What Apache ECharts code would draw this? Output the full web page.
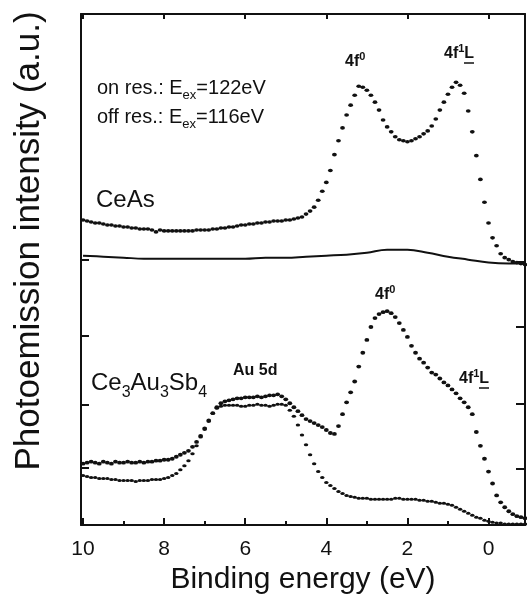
<!DOCTYPE html>
<html><head><meta charset="utf-8">
<script src="https://cdn.jsdelivr.net/npm/echarts@6/dist/echarts.min.js"></script>
<style>html,body{margin:0;padding:0;background:#fff}#c{width:527px;height:600px}</style>
</head><body><div id="c"></div>
<script>
// Binding energy sampling (eV)
const energyFine = [
 10.0,9.9,9.8,9.7,9.6,9.5,9.4,9.3,9.2,9.1,
 9.0,8.9,8.8,8.7,8.6,8.5,8.4,8.3,8.2,8.1,
 8.0,7.9,7.8,7.7,7.6,7.5,7.4,7.3,7.2,7.1,
 7.0,6.9,6.8,6.7,6.6,6.5,6.4,6.3,6.2,6.1,
 6.0,5.9,5.8,5.7,5.6,5.5,5.4,5.3,5.2,5.1,
 5.0,4.9,4.8,4.7,4.6,4.5,4.4,4.3,4.2,4.1,
 4.0,3.9,3.8,3.7,3.6,3.5,3.4,3.3,3.2,3.1,
 3.0,2.9,2.8,2.7,2.6,2.5,2.4,2.3,2.2,2.1,
 2.0,1.9,1.8,1.7,1.6,1.5,1.4,1.3,1.2,1.1,
 1.0,0.9,0.8,0.7,0.6,0.5,0.4,0.3,0.2,0.1,
 0.0,-0.1,-0.2,-0.3,-0.4,-0.5,-0.6,-0.7,-0.8,-0.9
];
// CeAs, on resonance (122 eV)
const ceAsOn = [
 308,307,306,305,305,304,303,303,302,302,
 301,301,300,300,299,299,299,298,296,298,
 297,297,297,297,297,297,297,297,298,298,
 298,298,299,299,300,300,301,301,302,303,
 303,304,304,305,305,306,306,307,307,307,
 308,308,309,310,311,314,317,321,328,337,
 346,358,374,388,401,414,424,434,443,442,
 439,434,427,419,409,402,397,392,389,388,
 387,388,390,392,395,398,403,410,419,427,
 435,442,447,444,436,418,397,373,349,326,
 305,290,282,274,270,268,266,265,264,263
];
// CeAs, off resonance (116 eV)
const energyCoarse = [10,9.5,9,8.5,8,7.5,7,6.5,6,5.5,5,4.5,4,3.5,3,2.5,2,1.5,1,0.5,0,-0.5,-0.9];
const ceAsOff = [272,271,270,269,269,269,269,269,269,270,270,271,272,273,275,278,278,275,271,268,265,264,264];
// Ce3Au3Sb4, on resonance
const ce3Au3Sb4On = [
 62,63,64,63,62,64,63,62,64,63,
 63,64,63,63,64,63,64,64,65,65,
 66,66,67,69,71,73,75,79,84,90,
 97,105,113,119,123,125,126,127,128,128,
 129,129,129,130,129,130,131,131,132,130,
 127,123,119,115,111,107,105,103,101,99,
 96,93,92,100,112,124,134,145,160,174,
 187,200,209,213,215,216,214,210,204,197,
 190,181,174,168,164,159,154,152,148,144,
 141,137,133,128,124,119,112,94,80,67,
 54,42,30,23,18,14,11,9,8,7
];
// Ce3Au3Sb4, off resonance
const ce3Au3Sb4Off = [
 50,49,48,48,47,47,47,46,46,45,
 45,45,45,44,45,45,45,46,46,46,
 47,48,50,52,56,60,65,72,80,89,
 98,106,113,118,120,121,121,121,121,120,
 120,121,121,122,121,121,120,121,122,122,
 121,116,110,101,91,81,71,62,54,48,
 43,40,37,34,32,30,29,28,27,27,
 27,26,26,26,26,26,26,27,27,26,
 26,26,26,25,25,24,24,23,22,22,
 21,20,18,16,14,12,10,8,7,5,
 4,3,2,2,1,1,1,1,1,1
];
const xTickLabels = [10,8,6,4,2,0];
const xMinorTicks = [9,7,5,3,1];
const yTicksLeft = [58,122,191,268];
const yTicksRight = [57,123,200,266];

const FONT = '"Liberation Sans", Arial, sans-serif';
const INK = '#111';
function pairs(xs, ys) { return xs.map((x, i) => [x, ys[i]]); }

const xBase = { type: 'value', min: -0.9, max: 10.05, inverse: true, splitLine: { show: false } };
const noZero = { onZero: false };
const chart = echarts.init(document.getElementById('c'), null, { renderer: 'canvas' });
const supRich = {
  m: { fontSize: 16, fontWeight: 'bold', lineHeight: 22, fontFamily: FONT, color: INK },
  s: { fontSize: 11, fontWeight: 'bold', lineHeight: 11, verticalAlign: 'top', fontFamily: FONT, color: INK }
};
const subRich = {
  m: { fontSize: 20, lineHeight: 28, fontFamily: FONT, color: INK },
  s: { fontSize: 13, lineHeight: 13, verticalAlign: 'bottom', fontFamily: FONT, color: INK }
};
chart.setOption({
  animation: false,
  backgroundColor: '#fff',
  grid: { left: 81, right: 2, top: 14, bottom: 70, containLabel: false },
  xAxis: [
    Object.assign({}, xBase, {
      position: 'bottom',
      axisLine: Object.assign({ show: true, lineStyle: { color: INK, width: 2 } }, noZero),
      axisTick: { show: true, inside: true, length: 7, customValues: xTickLabels, lineStyle: { color: INK, width: 2 } },
      axisLabel: { show: true, customValues: xTickLabels, margin: 14, fontSize: 21, color: INK, fontFamily: FONT },
      name: 'Binding energy (eV)', nameLocation: 'middle', nameGap: 36,
      nameTextStyle: { fontSize: 30, color: INK, fontFamily: FONT }
    }),
    Object.assign({}, xBase, {
      position: 'bottom',
      axisLine: Object.assign({ show: false }, noZero),
      axisTick: { show: true, inside: true, length: 4, customValues: xMinorTicks, lineStyle: { color: INK, width: 2 } },
      axisLabel: { show: false }
    }),
    Object.assign({}, xBase, {
      position: 'top',
      axisLine: Object.assign({ show: true, lineStyle: { color: INK, width: 2 } }, noZero),
      axisTick: { show: true, inside: true, length: 5, customValues: xTickLabels, lineStyle: { color: INK, width: 2 } },
      axisLabel: { show: false }
    })
  ],
  yAxis: [
    { type: 'value', min: 0, max: 516, position: 'left', splitLine: { show: false },
      axisLine: { show: true, onZero: false, lineStyle: { color: INK, width: 2 } },
      axisTick: { show: true, inside: true, length: 8, customValues: yTicksLeft, lineStyle: { color: INK, width: 2 } },
      axisLabel: { show: false } },
    { type: 'value', min: 0, max: 516, position: 'right', splitLine: { show: false },
      axisLine: { show: true, onZero: false, lineStyle: { color: INK, width: 2 } },
      axisTick: { show: true, inside: true, length: 9, customValues: yTicksRight, lineStyle: { color: INK, width: 2 } },
      axisLabel: { show: false } }
  ],
  series: [
    { name: 'CeAs on res.', type: 'line', data: pairs(energyFine, ceAsOn), symbol: 'circle', symbolSize: [4.8, 3.6],
      showSymbol: true, lineStyle: { width: 0, opacity: 0 }, itemStyle: { color: INK }, silent: true },
    { name: 'CeAs off res.', type: 'line', data: pairs(energyCoarse, ceAsOff), symbol: 'none', smooth: 0.4,
      lineStyle: { width: 2, color: INK }, silent: true },
    { name: 'Ce3Au3Sb4 on res.', type: 'line', data: pairs(energyFine, ce3Au3Sb4On), symbol: 'circle', symbolSize: [4.8, 3.8],
      showSymbol: true, lineStyle: { width: 0, opacity: 0 }, itemStyle: { color: INK }, silent: true },
    { name: 'Ce3Au3Sb4 off res.', type: 'line', data: pairs(energyFine, ce3Au3Sb4Off), symbol: 'circle', symbolSize: [4.4, 3],
      showSymbol: true, lineStyle: { width: 0, opacity: 0 }, itemStyle: { color: INK }, silent: true }
  ],
  graphic: [
    { type: 'text', x: 29, y: 241, rotation: Math.PI / 2, silent: true,
      style: { text: 'Photoemission intensity (a.u.)', font: '35px ' + FONT, fill: INK, textAlign: 'center', textVerticalAlign: 'middle' } },
    { type: 'text', x: 97, y: 88, silent: true,
      style: { text: '{m|on res.: E}{s|ex}{m|=122eV}', textAlign: 'left', textVerticalAlign: 'middle', fill: INK, rich: subRich } },
    { type: 'text', x: 97, y: 117, silent: true,
      style: { text: '{m|off res.: E}{s|ex}{m|=116eV}', textAlign: 'left', textVerticalAlign: 'middle', fill: INK, rich: subRich } },
    { type: 'text', x: 96, y: 200, silent: true,
      style: { text: 'CeAs', font: '24px ' + FONT, fill: INK, textAlign: 'left', textVerticalAlign: 'middle' } },
    { type: 'text', x: 91, y: 383, silent: true,
      style: { text: '{m|Ce}{s|3}{m|Au}{s|3}{m|Sb}{s|4}', textAlign: 'left', textVerticalAlign: 'middle', fill: INK,
        rich: { m: { fontSize: 24, lineHeight: 36, fontFamily: FONT, color: INK }, s: { fontSize: 16, lineHeight: 16, verticalAlign: 'bottom', fontFamily: FONT, color: INK } } } },
    { type: 'text', x: 233, y: 371, silent: true,
      style: { text: 'Au 5d', font: 'bold 16px ' + FONT, fill: INK, textAlign: 'left', textVerticalAlign: 'middle' } },
    { type: 'text', x: 345, y: 62, silent: true,
      style: { text: '{m|4f}{s|0}', textAlign: 'left', textVerticalAlign: 'middle', fill: INK, rich: supRich } },
    { type: 'text', x: 444, y: 54, silent: true,
      style: { text: '{m|4f}{s|1}{m|L}', textAlign: 'left', textVerticalAlign: 'middle', fill: INK, rich: supRich } },
    { type: 'line', silent: true, shape: { x1: 464, y1: 63, x2: 474, y2: 63 }, style: { stroke: INK, lineWidth: 1.5 } },
    { type: 'text', x: 375, y: 295, silent: true,
      style: { text: '{m|4f}{s|0}', textAlign: 'left', textVerticalAlign: 'middle', fill: INK, rich: supRich } },
    { type: 'text', x: 459, y: 379, silent: true,
      style: { text: '{m|4f}{s|1}{m|L}', textAlign: 'left', textVerticalAlign: 'middle', fill: INK, rich: supRich } },
    { type: 'line', silent: true, shape: { x1: 479, y1: 388, x2: 489, y2: 388 }, style: { stroke: INK, lineWidth: 1.5 } }
  ]
});
</script>
</body></html>
